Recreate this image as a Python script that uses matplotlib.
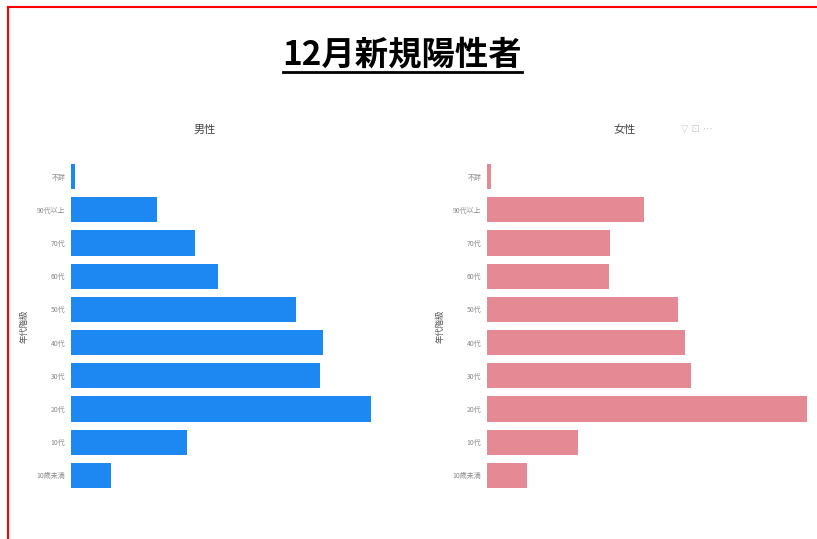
import matplotlib.pyplot as plt
from matplotlib.lines import Line2D

plt.rcParams['font.family'] = ['Noto Sans CJK JP', 'DejaVu Sans']

# 年代と人数
age_groups = ['不詳', '90代以上', '70代', '60代', '50代', '40代', '30代', '20代', '10代', '10歳未満']
male = [4, 86, 124, 147, 225, 252, 249, 300, 116, 40]
female = [4, 157, 123, 122, 191, 198, 204, 320, 91, 40]

male_color = '#1E88F2'
female_color = '#E58A94'

fig = plt.figure(figsize=(8.17, 5.39), dpi=100)

# 赤い枠
fig.add_artist(Line2D([8 / 817, 8 / 817], [0, 1 - 7 / 539], transform=fig.transFigure, color='red', lw=1.5))
fig.add_artist(Line2D([8 / 817, 1], [1 - 7 / 539, 1 - 7 / 539], transform=fig.transFigure, color='red', lw=1.5))

# タイトル（下線付き）
fig.text(402 / 817, 1 - 55 / 539, '12月新規陽性者', ha='center', va='center', fontsize=24, fontweight='bold')
fig.add_artist(Line2D([283 / 817, 522 / 817], [1 - 72 / 539, 1 - 72 / 539], transform=fig.transFigure, color='black', lw=2))

ax1 = fig.add_axes([71 / 817, 1 - 492 / 539, 329 / 817, 332 / 539])
ax2 = fig.add_axes([487 / 817, 1 - 492 / 539, 325 / 817, 332 / 539])

for ax, vals, col, xmax in [(ax1, male, male_color, 329), (ax2, female, female_color, 325)]:
    ax.barh(range(len(age_groups)), vals, height=0.76, color=col)
    ax.set_yticks(range(len(age_groups)))
    ax.set_yticklabels(age_groups, fontsize=5, color='#888888')
    ax.set_ylim(len(age_groups) - 0.5, -0.5)
    ax.set_xlim(0, xmax)
    ax.set_xticks([])
    ax.tick_params(axis='y', length=0, pad=4)
    for s in ax.spines.values():
        s.set_visible(False)
    ax.set_ylabel('年代階級', fontsize=6, color='#555555', labelpad=6)

# パネル見出し
fig.text(205 / 817, 1 - 130 / 539, '男性', fontsize=8, color='#444444', ha='center', va='center')
fig.text(625 / 817, 1 - 130 / 539, '女性', fontsize=8, color='#444444', ha='center', va='center')
fig.text(697 / 817, 1 - 129 / 539, '▽ ⊡ ⋯', fontsize=7, color='#cccccc', ha='center', va='center',
         family=['DejaVu Sans'])

plt.savefig('out.png', dpi=100)
